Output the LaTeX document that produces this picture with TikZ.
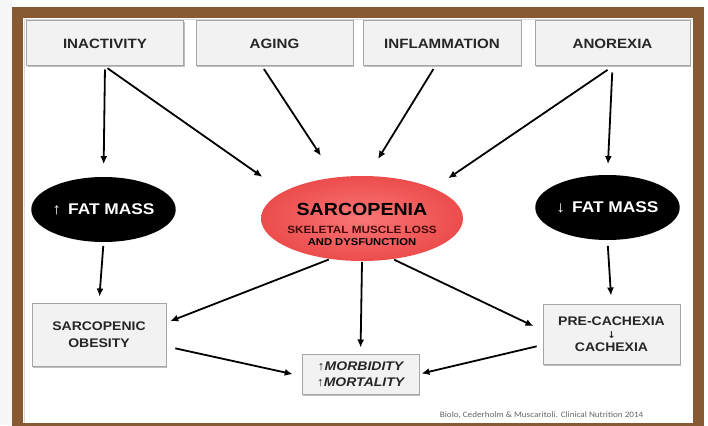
\documentclass[tikz,border=0pt]{standalone}
\usepackage{fontspec}
\setmainfont{Liberation Sans}[FakeStretch=1.12]
\newfontfamily\citefont{Carlito}[FakeStretch=1.1]
\newfontfamily\arrowfont{DejaVu Sans}
\usetikzlibrary{arrows.meta,shapes.geometric,shadows}

\definecolor{framebrown}{RGB}{135,90,50}
\definecolor{boxfill}{RGB}{242,242,242}
\definecolor{boxline}{RGB}{165,165,165}
\definecolor{sarcored}{RGB}{236,76,76}
\definecolor{sarcolight}{RGB}{250,118,118}
\definecolor{darktext}{RGB}{38,38,38}
\definecolor{subtext}{RGB}{70,10,10}

\tikzset{
  boxshadow/.style={drop shadow={shadow xshift=1.2pt, shadow yshift=-1.5pt, fill=black, opacity=0.25}},
  causebox/.style={draw=boxline, fill=boxfill, line width=1pt, minimum height=45pt,
    inner sep=0pt, text=darktext, font=\bfseries\fontsize{13.5}{15}\selectfont, boxshadow},
  fatellipse/.style={ellipse, fill=black, minimum width=141pt, minimum height=65pt,
    inner sep=0pt, text=white, font=\bfseries\fontsize{15.5}{17}\selectfont},
  sarcoellipse/.style={ellipse, inner color=sarcolight, outer color=sarcored,
    minimum width=202pt, minimum height=85pt, inner xsep=-4pt, inner ysep=0pt, align=center, font=\bfseries},
  outbox/.style={draw=boxline, fill=boxfill, line width=1pt, inner sep=0pt, align=center,
    text=darktext, font=\bfseries\fontsize{12.5}{16.5}\selectfont, boxshadow},
}

\begin{document}
\begin{tikzpicture}[x=1pt, y=-1pt, >={Latex[length=8pt,width=7pt]}, line width=1.8pt]
  \useasboundingbox (0,0) rectangle (708,425);

  % Background and frame
  \fill[gray!6] (0,0) rectangle (12,425);
  \fill[white] (12,0) rectangle (708,425);
  \draw[gray!30, line width=1.5pt] (24.5,425) -- (24.5,19.5) -- (692.5,19.5);
  \draw[framebrown, line width=11pt] (17.5,12.5) rectangle (698.5,428);

  % Top row nodes
  \node[causebox, minimum width=157pt] (inactivity) at (105,43.5) {INACTIVITY};
  \node[causebox, minimum width=157pt] (aging) at (274.5,43.5) {AGING};
  \node[causebox, minimum width=158pt] (inflammation) at (442,43.5) {INFLAMMATION};
  \node[causebox, minimum width=155pt] (anorexia) at (612.5,43.5) {ANOREXIA};

  % Middle row nodes
  \node[fatellipse] (fatup) at (103.5,209.5) {↑\hspace{7pt}FAT MASS};
  \node[sarcoellipse] (sarco) at (362,218.5)
    {\rule{0pt}{24pt}\fontsize{17.5}{19}\selectfont SARCOPENIA\\[6pt]
     \fontsize{10.5}{11}\selectfont\color{subtext} SKELETAL MUSCLE LOSS\\AND DYSFUNCTION};
  \node[fatellipse] (fatdown) at (607.5,207.5) {↓\hspace{7pt}FAT MASS};

  % Bottom row nodes
  \node[outbox, minimum width=134pt, minimum height=63pt] (obesity) at (99,334.5) {SARCOPENIC\\OBESITY};
  \node[outbox, minimum width=117pt, minimum height=40pt, font=\bfseries\itshape\fontsize{12.5}{16}\selectfont]
    (morbidity) at (360.5,374) {↑MORBIDITY\\↑MORTALITY};
  \node[outbox, minimum width=137pt, minimum height=60pt] (cachexia) at (611.5,334)
    {PRE-CACHEXIA\\[-3.5pt]{\arrowfont\fontsize{9.5}{10}\selectfont ↓}\\[-3.5pt]CACHEXIA};

  % Source
  \node[anchor=west, inner sep=0pt, text=gray!80!black, font=\citefont\fontsize{8.3}{10}\selectfont]
    (source) at (439,415) {Biolo, Cederholm \& Muscaritoli. Clinical Nutrition 2014};

  % Causes
  \draw[->, shorten <=3pt, shorten >=12pt] (inactivity.south) -- (fatup.north);
  \draw[->, shorten <=3pt, shorten >=25pt] (inactivity.south) -- (sarco.161);
  \draw[->, shorten <=3pt, shorten >=25pt] (aging.-118) -- (sarco);
  \draw[->, shorten <=3pt, shorten >=19pt] (inflammation.-107) -- (sarco.82);
  \draw[->, shorten <=6pt, shorten >=10pt] (anorexia.south) -- (fatdown.north);
  \draw[->, shorten <=6pt, shorten >=17pt] (anorexia.south) -- (sarco.23);

  % Outcomes
  \draw[->, shorten <=3pt, shorten >=6pt] (fatup.south) -- (obesity.north);
  \draw[->, shorten <=5pt, shorten >=8pt] (fatdown.south) -- (cachexia.north);
  \draw[->, shorten >=4pt] (sarco.231) -- (obesity.10);
  \draw[->, shorten >=6pt] (sarco.south) -- (morbidity.north);
  \draw[->, shorten >=10pt] (sarco.-52) -- (cachexia.177);
  \draw[->, shorten <=9pt, shorten >=9pt] (obesity.-10) -- (morbidity.182);
  \draw[->, shorten <=6pt, shorten >=2pt] (cachexia.189) -- (morbidity.east);
\end{tikzpicture}
\end{document}
